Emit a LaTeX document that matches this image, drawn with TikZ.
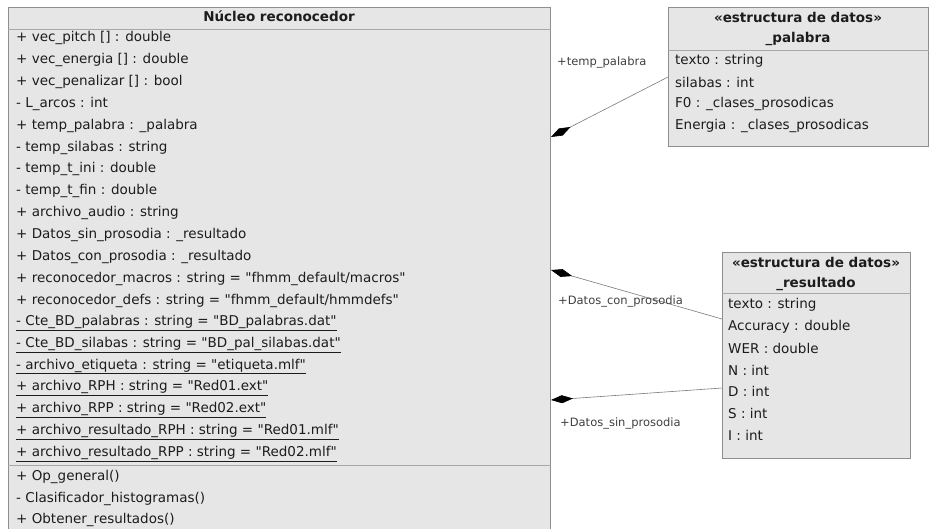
\documentclass[tikz,border=0pt]{standalone}
\usepackage{fontspec}
\setmainfont{DejaVu Sans}[Ligatures=TeXOff]
\usetikzlibrary{arrows.meta}

\definecolor{boxfill}{HTML}{E6E6E6}
\definecolor{boxline}{HTML}{8E8E8E}
\definecolor{sepline}{HTML}{A8A8A8}
\definecolor{ink}{HTML}{1C1C1C}
\definecolor{rolegray}{HTML}{404040}
\definecolor{assocgray}{HTML}{7A7A7A}

\newcommand\attrsize{\fontsize{13.5}{16}\selectfont}
\newcommand\rolesize{\fontsize{11.5}{14}\selectfont}

\begin{document}
\begin{tikzpicture}[x=1pt,y=-1pt,
  cls/.style={draw=boxline, fill=boxfill, line width=0.8pt, inner sep=0pt, anchor=north west},
  sep/.style={draw=sepline, line width=0.8pt},
  attr/.style={anchor=west, inner sep=0pt, font=\attrsize, text=ink},
  hdr/.style={anchor=center, inner sep=0pt, font=\attrsize\bfseries, text=ink},
  role/.style={anchor=west, inner sep=0pt, font=\rolesize, text=rolegray},
  assoc/.style={draw=assocgray, line width=0.6pt,
    {Diamond[length=22pt, width=8pt, fill=black, color=black]}-}]

\useasboundingbox (0,0) rectangle (930,529);
\fill[white] (0,0) rectangle (930,529);
\clip (0,0) rectangle (930,529);

% ---------- class: Nucleo reconocedor ----------
\node[cls, minimum width=542pt, minimum height=530pt] (nucleo) at (8,7) {};
\node[hdr] (nucleoT) at (279,16) {Núcleo reconocedor};
\draw[sep] (nucleo.west |- 0,29) -- (nucleo.east |- 0,29);

\foreach \t [count=\i] in {
  {+ vec\_pitch [] : double},
  {+ vec\_energia [] : double},
  {+ vec\_penalizar [] : bool},
  {- L\_arcos : int},
  {+ temp\_palabra : \_palabra},
  {- temp\_silabas : string},
  {- temp\_t\_ini : double},
  {- temp\_t\_fin : double},
  {+ archivo\_audio : string},
  {+ Datos\_sin\_prosodia : \_resultado},
  {+ Datos\_con\_prosodia : \_resultado},
  {+ reconocedor\_macros : string = "fhmm\_default/macros"},
  {+ reconocedor\_defs : string = "fhmm\_default/hmmdefs"},
  {\underline{- Cte\_BD\_palabras : string = "BD\_palabras.dat"}},
  {\underline{- Cte\_BD\_silabas : string = "BD\_pal\_silabas.dat"}},
  {\underline{- archivo\_etiqueta : string = "etiqueta.mlf"}},
  {\underline{+ archivo\_RPH : string = "Red01.ext"}},
  {\underline{+ archivo\_RPP : string = "Red02.ext"}},
  {\underline{+ archivo\_resultado\_RPH : string = "Red01.mlf"}},
  {\underline{+ archivo\_resultado\_RPP : string = "Red02.mlf"}}
}{\node[attr] (na\i) at (16,{38+(\i-1)*21.9}) {\t};}

\draw[sep] (nucleo.west |- 0,465) -- (nucleo.east |- 0,465);

\foreach \t [count=\i] in {
  {+ Op\_general()},
  {- Clasificador\_histogramas()},
  {+ Obtener\_resultados()}
}{\node[attr] (no\i) at (16,{477+(\i-1)*21.5}) {\t};}

% ---------- struct: _palabra ----------
\node[cls, minimum width=260pt, minimum height=139pt] (palabra) at (668,7) {};
\node[hdr] (palabraS) at (798,17) {«estructura de datos»};
\node[hdr] (palabraT) at (798,39) {\_palabra};
\draw[sep] (palabra.west |- 0,50) -- (palabra.east |- 0,50);
\foreach \t [count=\i] in {
  {texto : string},
  {silabas : int},
  {F0 : \_clases\_prosodicas},
  {Energia : \_clases\_prosodicas}
}{\node[attr] (pa\i) at (675,{61+(\i-1)*21.7}) {\t};}

% ---------- struct: _resultado ----------
\node[cls, minimum width=188pt, minimum height=206pt] (resultado) at (722,252) {};
\node[hdr] (resultadoS) at (816,262) {«estructura de datos»};
\node[hdr] (resultadoT) at (816,284) {\_resultado};
\draw[sep] (resultado.west |- 0,293) -- (resultado.east |- 0,293);
\foreach \t [count=\i] in {
  {texto : string},
  {Accuracy : double},
  {WER : double},
  {N : int},
  {D : int},
  {S : int},
  {I : int}
}{\node[attr] (re\i) at (728,{305+(\i-1)*21.7}) {\t};}

% ---------- composition links ----------
\coordinate (dPal) at (551,137);
\coordinate (dCon) at (551,270);
\coordinate (dSin) at (551,400);

\draw[assoc] (dPal) -- (palabra.west |- 0,77);
\draw[assoc] (dCon) -- (resultado.west |- 0,319);
\draw[assoc] (dSin) -- (resultado.west |- 0,388);

\node[role] (lPal) at (557,62) {+temp\_palabra};
\node[role] (lCon) at (558,301) {+Datos\_con\_prosodia};
\node[role] (lSin) at (560,423) {+Datos\_sin\_prosodia};

\end{tikzpicture}
\end{document}
